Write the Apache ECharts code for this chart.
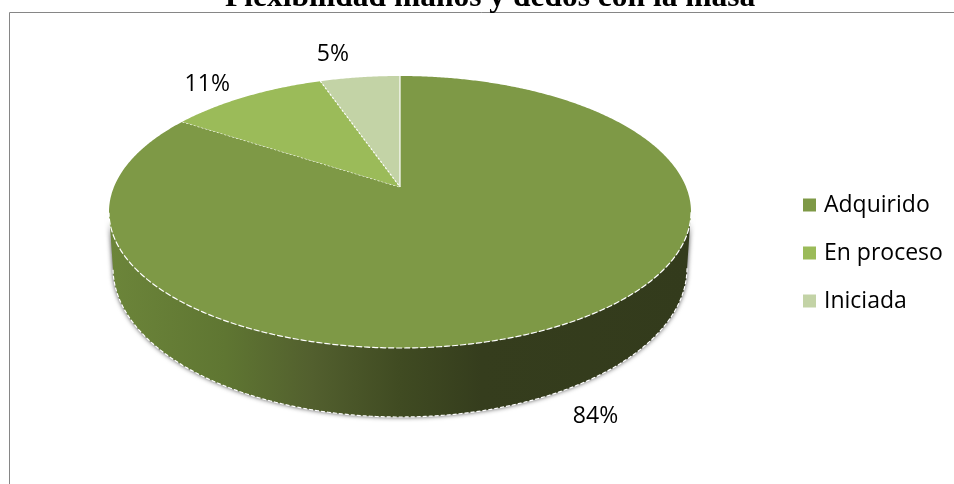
<!DOCTYPE html>
<html><head><meta charset="utf-8">
<style>html,body{margin:0;padding:0;background:#fff}#c{width:954px;height:484px}</style>
<script src="https://cdn.jsdelivr.net/npm/echarts@6/dist/echarts.min.js"></script>
</head><body><div id="c"></div>
<script>
const categories = ["Adquirido", "En proceso", "Iniciada"];
const shares = [84.2, 10.5, 5.3];
const sliceColors = ["#7E9946", "#9BBB59", "#C3D3A6"];
const titleText = "Flexibilidad manos y dedos con la masa";

// pie drawing geometry (tilted, in perspective)
const top3d = {cx: 400, cy: 212, rx: 291, ry: 136};
const base3d = {cx: 400, cy: 268, rx: 287, ry: 149};
const tilt = 0.184;   // how far the pie centre sits above the middle of the ellipse
const labelOffsets = [[33, 92], [-39, -12], [-27, -23]];
const labelFont = '23px "Open Sans"';

const total = shares.reduce((a, b) => a + b, 0);
let run = 0;
const starts = shares.map(v => { const s = run; run += v; return s; });

function unit(frac) {
  const a = frac * 2 * Math.PI, x = Math.sin(a), y = Math.cos(a);
  const d = 1 + tilt * y;
  return [x * Math.sqrt(1 - tilt * tilt) / d, (y + tilt) / d];
}
const onEllipse = (e, p) => [e.cx + e.rx * p[0], e.cy - e.ry * p[1]];

function renderSlice(params, api) {
  const i = params.seriesIndex, value = api.value(0), start = api.value(1);
  const color = sliceColors[i], steps = Math.max(2, Math.round(value * 8));
  const unitPts = [];
  for (let k = 0; k <= steps; k++) unitPts.push(unit((start + value * k / steps) / total));
  const apex = onEllipse(top3d, [0, tilt]);
  const topPts = unitPts.map(p => onEllipse(top3d, p));
  const front = unitPts.filter(p => p[1] <= 0.0);
  const children = [];
  if (front.length > 1) {
    const upper = front.map(p => onEllipse(top3d, p));
    const lower = front.map(p => onEllipse(base3d, p));
    children.push({
      type: 'polygon', z2: 1,
      shape: {points: upper.concat(lower.slice().reverse())},
      style: {
        fill: {type: 'linear', x: 0, y: 0, x2: 1, y2: 0, colorStops: [
          {offset: 0, color: '#6C853A'}, {offset: 0.20, color: '#5F7632'},
          {offset: 0.35, color: '#525F2E'}, {offset: 0.50, color: '#404B22'},
          {offset: 0.64, color: '#353D1D'}, {offset: 1, color: '#333B1C'}]},
        shadowBlur: 5, shadowColor: 'rgba(0,0,0,0.75)'
      }
    });
    children.push({type: 'polyline', z2: 2, shape: {points: lower},
      style: {fill: 'none', stroke: '#fff', lineWidth: 1.2, lineDash: [4, 2]}});
  }
  children.push({
    type: 'polygon', z2: 3,
    shape: {points: [apex].concat(topPts)},
    style: {fill: color, opacity: 1}
  });
  if (front.length > 1) {
    children.push({type: 'polyline', z2: 4, shape: {points: front.map(p => onEllipse(top3d, p))},
      style: {fill: 'none', stroke: '#fff', lineWidth: 1.2, lineDash: [6, 2]}});
  }
  // edges from the centre out to the rim
  children.push({type: 'polyline', z2: 5, shape: {points: [topPts[topPts.length - 1], apex]},
    style: {fill: 'none', stroke: '#fff', lineWidth: 1.2, lineDash: i === 2 ? null : [2, 2]}});
  const mid = onEllipse(top3d, unit((start + value / 2) / total));
  children.push({type: 'text', z2: 6, style: {
    text: Math.round(value) + '%', x: mid[0] + labelOffsets[i][0], y: mid[1] + labelOffsets[i][1],
    font: labelFont, fill: '#000', align: 'center', verticalAlign: 'middle'}});
  return {type: 'group', children};
}

const chart = echarts.init(document.getElementById('c'), null, {renderer: 'canvas'});
chart.setOption({
  animation: false,
  backgroundColor: '#fff',
  title: {text: titleText, left: 220, top: -23,
    textStyle: {fontFamily: '"Liberation Serif"', fontWeight: 'bold', fontSize: 31.5, color: '#000'}},
  legend: {
    orient: 'vertical', left: 803, top: 193, padding: 0, icon: 'rect',
    itemWidth: 13, itemHeight: 13, itemGap: 24,
    data: categories,
    textStyle: {fontFamily: '"Open Sans"', fontSize: 23, lineHeight: 24, color: '#000', padding: [0, 0, 0, 3]}
  },
  graphic: [{type: 'polyline', silent: true, z: -1,
    shape: {points: [[9.5, 484], [9.5, 12.5], [954, 12.5]]},
    style: {fill: 'none', stroke: '#868686', lineWidth: 1}}],
  series: categories.map((name, i) => ({
    type: 'custom', name, coordinateSystem: 'none',
    z: 2 + (i === 0 ? 0 : 1),
    itemStyle: {color: sliceColors[i]},
    renderItem: renderSlice,
    data: [[shares[i], starts[i]]]
  }))
});
</script></body></html>
